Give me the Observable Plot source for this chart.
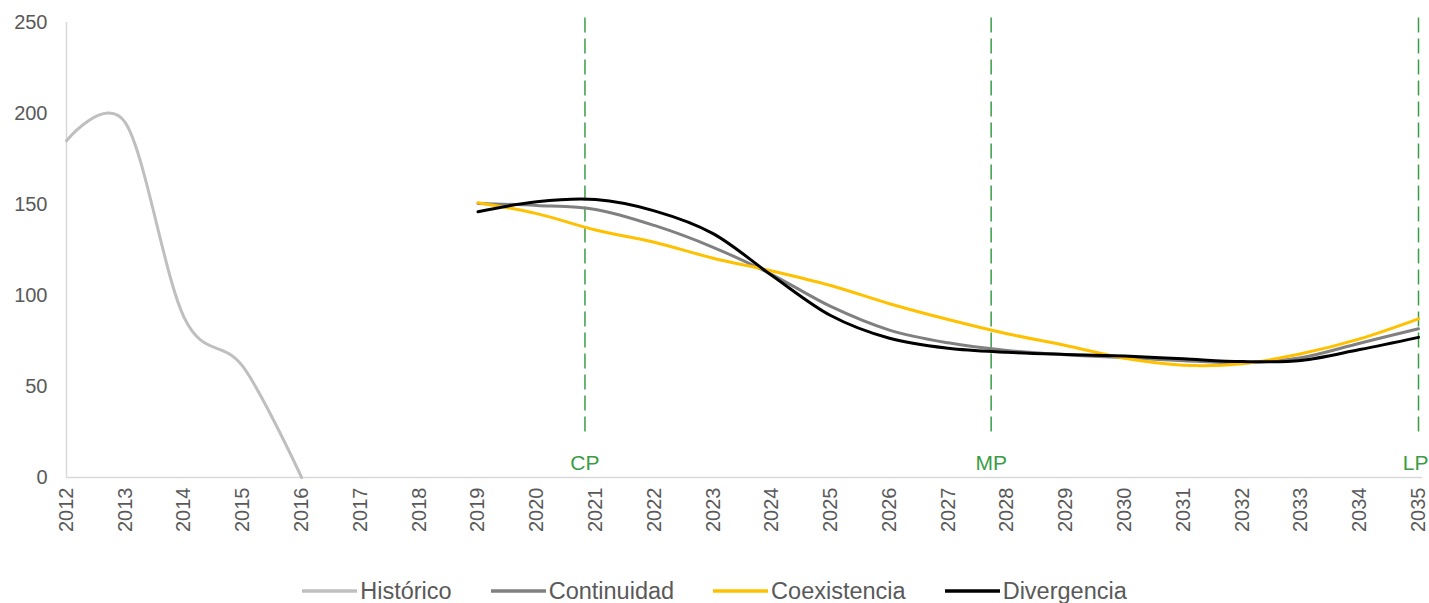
<!DOCTYPE html>
<html><head><meta charset="utf-8">
<script src="https://cdn.jsdelivr.net/npm/d3@7"></script>
<script src="https://cdn.jsdelivr.net/npm/@observablehq/plot@0.6"></script>
<style>
body{margin:0;background:#fff;font-family:"Liberation Sans",Arial,sans-serif;}
#legend{display:flex;justify-content:center;align-items:center;height:38px;font-size:23.5px;color:#595959;}
.item{display:flex;align-items:center;margin-right:39px}
.item:last-child{margin-right:0}
.item svg{margin-right:3px}
</style></head><body><div id="chart"></div><div id="legend"></div>
<script>
// Tick labels (years)
const tickYears = [2012,2013,2014,2015,2016,2017,2018,2019,2020,2021,2022,2023,2024,2025,2026,2027,2028,2029,2030,2031,2032,2033,2034,2035];
const yTicks = [0,50,100,150,200,250];

// Series
const historicoYears = [2012,2013,2014,2015,2016];
const historico = [185,195,88,61,0];

const scenarioYears = [2019,2020,2021,2022,2023,2024,2025,2026,2027,2028,2029,2030,2031,2032,2033,2034,2035];
const continuidad = [150.5,149.5,147.3,138.5,126.5,111.5,94,81,74,69.8,67.4,65.8,64.2,63,65.8,73.8,81.7];
const coexistencia = [151,145,136,129.3,120.5,113.5,105.5,95.5,86.8,79,72.5,65.5,61.7,62.5,68,76.2,87.2];
const divergencia = [146,151.5,152.7,146.5,134,111,89,76.5,71,68.8,67.6,66.7,65.2,63.7,64.3,70.3,77];

// Horizon markers
const markerYears = [2020.82,2027.73,2035];
const markerLabels = ["CP","MP","LP"];
const markerSpan = [25,253];
const markerLabelValue = 8;

const seriesNames = ["Histórico","Continuidad","Coexistencia","Divergencia"];
const seriesColors = ["#bfbfbf","#808080","#ffc000","#000000"];
const green = "#3a9d46";
const axisGray = "#d9d9d9";

const rows = [];
historicoYears.forEach((y,i)=>rows.push({series:"Histórico",year:y,value:historico[i]}));
scenarioYears.forEach((y,i)=>{
  rows.push({series:"Continuidad",year:y,value:continuidad[i]});
  rows.push({series:"Coexistencia",year:y,value:coexistencia[i]});
  rows.push({series:"Divergencia",year:y,value:divergencia[i]});
});
const markers = markerYears.map((x,i)=>({x,label:markerLabels[i],y1:markerSpan[0],y2:markerSpan[1],ly:markerLabelValue}));
const innerMarkers = markers.slice(0, 2);
const edgeMarkers = markers.slice(2);

const chart = Plot.plot({
  width: 1429,
  height: 572,
  marginTop: 22,
  marginBottom: 95,
  marginLeft: 66,
  marginRight: 11,
  style: {fontFamily: '"Liberation Sans", Arial, sans-serif', fontSize: "20px", color: "#595959", background: "#fff", overflow: "visible"},
  x: {domain: [2012, 2035], label: null},
  y: {domain: [0, 250], label: null},
  color: {domain: seriesNames, range: seriesColors},
  marks: [
    Plot.ruleX([2012], {stroke: axisGray, strokeWidth: 1.5}),
    Plot.ruleY([0], {x1: 2012, x2: 2035.07, stroke: axisGray, strokeWidth: 1.5}),
    Plot.axisY({ticks: yTicks, tickSize: 0, tickPadding: 19, label: null, fontSize: 20}),
    Plot.axisX({ticks: tickYears, tickFormat: d => String(d), tickRotate: -90, tickSize: 0, tickPadding: 10, label: null, fontSize: 20}),
    Plot.ruleX(markers, {x: "x", y1: "y1", y2: "y2", stroke: green, strokeWidth: 1.5, strokeDasharray: "15,6"}),
    Plot.text(innerMarkers, {x: "x", y: "ly", text: "label", fill: green, fontSize: 21, textAnchor: "middle"}),
    Plot.text(edgeMarkers, {x: "x", y: "ly", text: "label", fill: green, fontSize: 21, textAnchor: "end", dx: 10}),
    Plot.line(rows, {x: "year", y: "value", z: "series", stroke: "series", strokeWidth: 3, curve: "cardinal"})
  ]
});
document.getElementById("chart").appendChild(chart);

const legend = document.getElementById("legend");
seriesNames.forEach((name,i)=>{
  const item = document.createElement("div");
  item.className = "item";
  item.innerHTML = `<svg width="55" height="6"><line x1="0" y1="3" x2="55" y2="3" stroke="${seriesColors[i]}" stroke-width="3.5"/></svg><span>${name}</span>`;
  legend.appendChild(item);
});
</script>
</body></html>
